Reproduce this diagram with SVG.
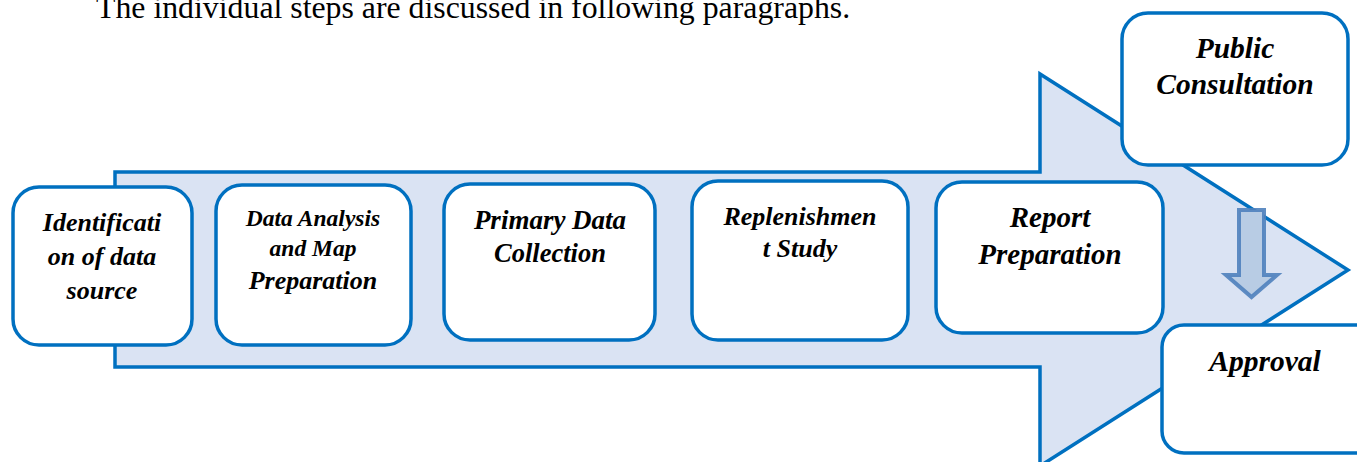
<svg xmlns="http://www.w3.org/2000/svg" width="1357" height="462" viewBox="0 0 1357 462">
<style>
.box{fill:#ffffff;stroke:#0070c0;stroke-width:3.5}
.t{font-family:"Liberation Serif","Times New Roman",serif;font-weight:bold;font-style:italic;fill:#000;text-anchor:middle}
</style>
<rect width="1357" height="462" fill="#ffffff"/>
<text x="96" y="18" font-family="Liberation Serif, serif" font-size="31.8" fill="#000">The individual steps are discussed in following paragraphs.</text>
<g id="connectors">
<path id="main-arrow" d="M115,172 L1040,172 L1040,74 L1348,270 L1040,466 L1040,367 L115,367 Z" fill="#dae3f3" stroke="#0070c0" stroke-width="3.5"/>
<path id="down-arrow" d="M1239,210 L1264,210 L1264,275 L1277,275 L1251.5,297 L1226,275 L1239,275 Z" fill="#b8cce4" stroke="#4f81bd" stroke-width="4" stroke-opacity="0.9"/>
</g>
<g id="n1"><rect class="box" x="13" y="187" width="179" height="158" rx="26"/>
<text class="t" font-size="26" x="102" y="231">Identificati</text><text class="t" font-size="26" x="102" y="265">on of data</text><text class="t" font-size="26" x="102" y="299">source</text></g>
<g id="n2"><rect class="box" x="216" y="185" width="195" height="160" rx="26"/>
<text class="t" font-size="23.5" x="313" y="226">Data Analysis</text><text class="t" font-size="23.5" x="313" y="256">and Map</text><text class="t" font-size="26" x="313" y="289">Preparation</text></g>
<g id="n3"><rect class="box" x="444" y="184" width="211" height="156" rx="26"/>
<text class="t" font-size="27" x="550" y="229">Primary Data</text><text class="t" font-size="26.5" x="550" y="262">Collection</text></g>
<g id="n4"><rect class="box" x="692" y="181" width="216" height="159" rx="26"/>
<text class="t" font-size="26" x="800" y="225">Replenishmen</text><text class="t" font-size="26" x="800" y="257">t Study</text></g>
<g id="n5"><rect class="box" x="936" y="182" width="227" height="151" rx="26"/>
<text class="t" font-size="29" x="1050" y="227">Report</text><text class="t" font-size="29" x="1050" y="264">Preparation</text></g>
<g id="n6"><rect class="box" x="1122" y="13" width="226" height="152" rx="26"/>
<text class="t" font-size="29.5" x="1235" y="58">Public</text><text class="t" font-size="29.5" x="1235" y="94">Consultation</text></g>
<g id="n7"><rect class="box" x="1162" y="325" width="215" height="128" rx="22"/>
<text class="t" font-size="29.5" x="1265" y="371">Approval</text></g>
</svg>
